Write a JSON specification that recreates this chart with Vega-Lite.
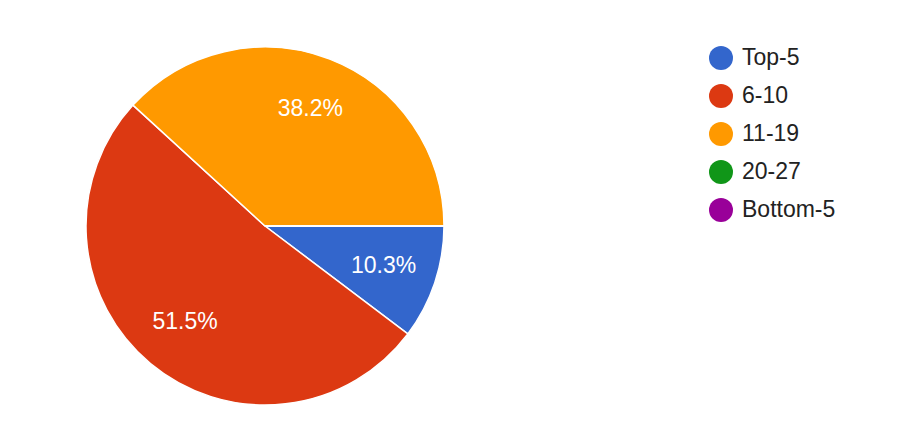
{
  "$schema": "https://vega.github.io/schema/vega-lite/v6.json",
  "autosize": "none",
  "width": 500,
  "height": 400,
  "padding": {"left": 15, "top": 26, "right": 385, "bottom": 2},
  "background": "white",
  "config": {"view": {"stroke": null}, "font": "Liberation Sans"},
  "data": {
    "values": [
      {"category": "Top-5", "rank": 1, "share": 0.103},
      {"category": "6-10", "rank": 2, "share": 0.515},
      {"category": "11-19", "rank": 3, "share": 0.382},
      {"category": "20-27", "rank": 4, "share": 0},
      {"category": "Bottom-5", "rank": 5, "share": 0}
    ]
  },
  "encoding": {
    "theta": {"field": "share", "type": "quantitative", "stack": true, "scale": {"range": [1.5707963, 7.8539816]}},
    "order": {"field": "rank", "type": "quantitative"},
    "color": {
      "field": "category",
      "type": "nominal",
      "scale": {
        "domain": ["Top-5", "6-10", "11-19", "20-27", "Bottom-5"],
        "range": ["#3366CC", "#DC3912", "#FF9900", "#109618", "#990099"]
      },
      "legend": {
        "title": null,
        "orient": "none",
        "legendX": 694,
        "legendY": 20,
        "padding": 0,
        "symbolType": "circle",
        "symbolSize": 576,
        "symbolStrokeWidth": 0,
        "symbolOpacity": 1,
        "labelFontSize": 23,
        "labelFont": "Liberation Sans",
        "labelColor": "#222222",
        "labelOffset": 9,
        "rowPadding": 14,
        "labelLimit": 300
      }
    }
  },
  "layer": [
    {"mark": {"type": "arc", "outerRadius": 179, "stroke": "white", "strokeWidth": 1.5}},
    {
      "transform": [{"filter": "datum.share > 0"}],
      "mark": {"type": "text", "radius": 125, "fontSize": 23, "font": "Liberation Sans", "fill": "white"},
      "encoding": {
        "text": {"field": "share", "type": "quantitative", "format": ".1%"},
        "color": {"value": "white"}
      }
    }
  ]
}
